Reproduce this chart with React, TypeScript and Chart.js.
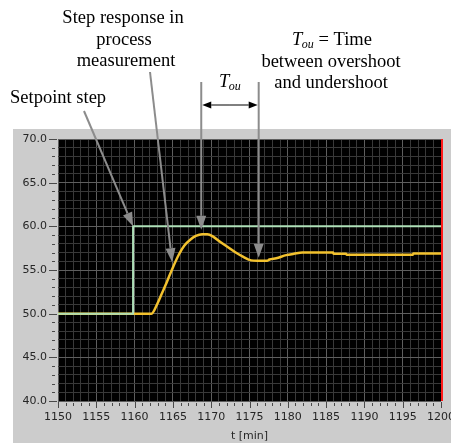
import React, { useEffect, useRef } from "react";
import { Chart, registerables } from "chart.js";

Chart.register(...registerables);

// ---- Data ----
const processTime = [
  1150, 1162.2, 1163.0, 1163.5, 1164.2, 1165.0, 1165.8, 1166.5, 1167.3, 1168.0,
  1168.8, 1169.5, 1170.3, 1171.2, 1172.2, 1173.2, 1174.2, 1175.2, 1176.0, 1177.3,
  1177.6, 1178.5, 1179.8, 1180.8, 1181.9, 1185.9, 1186.0, 1187.6, 1187.7, 1196.3,
  1196.4, 1200,
];
const processValue = [
  50.0, 50.0, 51.2, 52.2, 53.6, 55.3, 56.8, 57.8, 58.5, 58.9,
  59.1, 59.1, 58.8, 58.2, 57.6, 57.0, 56.5, 56.1, 56.05, 56.05,
  56.2, 56.35, 56.7, 56.85, 57.0, 57.0, 56.85, 56.85, 56.75, 56.75,
  56.88, 56.88,
];
const setpointTime = [1150, 1159.8, 1159.8, 1200];
const setpointValue = [50, 50, 60, 60];

const xMin = 1150;
const xMax = 1200;
const yMin = 40;
const yMax = 70;
const tickStep = 1;
const majorEvery = 5;

// annotation targets (data coordinates)
const setpointArrowTip = { x: 1159.8, y: 60 };
const responseArrowTip = { x: 1164.9, y: 55.9 };
const overshootArrowTip = { x: 1168.7, y: 59.6 };
const undershootArrowTip = { x: 1176.2, y: 56.4 };

const SERIF = '"Liberation Serif", "Times New Roman", serif';
const SANS = '"DejaVu Sans", Tahoma, sans-serif';
const ARROW_GRAY = "#8c8c8c";
const MINOR_GRID = "#383838";
const MAJOR_GRID = "#5e5e5e";
const LABEL_COLOR = "#262626";

function arrow(
  ctx: CanvasRenderingContext2D,
  x0: number, y0: number, x1: number, y1: number,
  color: string, lw: number, headLen: number, headHalf: number
) {
  const ang = Math.atan2(y1 - y0, x1 - x0);
  const bx = x1 - headLen * Math.cos(ang);
  const by = y1 - headLen * Math.sin(ang);
  ctx.strokeStyle = color;
  ctx.lineWidth = lw;
  ctx.beginPath();
  ctx.moveTo(x0, y0);
  ctx.lineTo(bx, by);
  ctx.stroke();
  ctx.fillStyle = color;
  ctx.beginPath();
  ctx.moveTo(x1, y1);
  ctx.lineTo(bx + headHalf * Math.sin(ang), by - headHalf * Math.cos(ang));
  ctx.lineTo(bx - headHalf * Math.sin(ang), by + headHalf * Math.cos(ang));
  ctx.closePath();
  ctx.fill();
}

function touWidth(ctx: CanvasRenderingContext2D) {
  ctx.font = `italic 18.5px ${SERIF}`;
  const wT = ctx.measureText("T").width;
  ctx.font = `italic 12px ${SERIF}`;
  const wo = ctx.measureText("ou").width;
  return { wT, wo };
}

function drawTou(ctx: CanvasRenderingContext2D, x: number, y: number) {
  const { wT, wo } = touWidth(ctx);
  ctx.textAlign = "left";
  ctx.font = `italic 18.5px ${SERIF}`;
  ctx.fillText("T", x, y);
  ctx.font = `italic 12px ${SERIF}`;
  ctx.fillText("ou", x + wT - 0.5, y + 3);
  return wT + wo - 0.5;
}

const decorPlugin = {
  id: "decor",
  beforeDraw(chart: any) {
    const { ctx, chartArea: a, width, height } = chart;
    ctx.save();
    ctx.fillStyle = "#ffffff";
    ctx.fillRect(0, 0, width, height);
    ctx.fillStyle = "#cccccc";
    ctx.fillRect(a.left - 45, a.top - 10, width - (a.left - 45), a.bottom + 42 - (a.top - 10));
    ctx.fillStyle = "#000000";
    ctx.fillRect(a.left, a.top, a.right - a.left, a.bottom - a.top);
    ctx.restore();
  },
  afterDraw(chart: any) {
    const { ctx, chartArea: a, scales } = chart;
    const xs = scales.x;
    const ys = scales.y;
    ctx.save();

    // red cursor line at right edge
    ctx.fillStyle = "#ff1a1a";
    ctx.fillRect(a.right, a.top, 2, a.bottom - a.top);

    // tick marks
    ctx.strokeStyle = "#4a4a4a";
    ctx.lineWidth = 1;
    for (const t of xs.ticks) {
      const px = Math.round(xs.getPixelForValue(t.value)) + 0.5;
      const major = t.value % majorEvery === 0;
      ctx.beginPath();
      ctx.moveTo(px, a.bottom + (major ? 1 : 2));
      ctx.lineTo(px, a.bottom + (major ? 7 : 5));
      ctx.stroke();
    }
    for (const t of ys.ticks) {
      const py = Math.round(ys.getPixelForValue(t.value)) + 0.5;
      const major = t.value % majorEvery === 0;
      ctx.beginPath();
      ctx.moveTo(a.left - (major ? 9 : 6), py);
      ctx.lineTo(a.left - (major ? 1 : 3), py);
      ctx.stroke();
    }

    // arrows
    const sp = { x: xs.getPixelForValue(setpointArrowTip.x), y: ys.getPixelForValue(setpointArrowTip.y) };
    const rs = { x: xs.getPixelForValue(responseArrowTip.x), y: ys.getPixelForValue(responseArrowTip.y) };
    const ov = { x: xs.getPixelForValue(overshootArrowTip.x), y: ys.getPixelForValue(overshootArrowTip.y) };
    const un = { x: xs.getPixelForValue(undershootArrowTip.x), y: ys.getPixelForValue(undershootArrowTip.y) };
    arrow(ctx, 84, 111, sp.x, sp.y, ARROW_GRAY, 2, 14, 5);
    arrow(ctx, 150, 72, rs.x, rs.y, ARROW_GRAY, 2, 14, 5);
    arrow(ctx, ov.x, 82, ov.x, ov.y, ARROW_GRAY, 2, 14, 5);
    arrow(ctx, un.x, 82, un.x, un.y, ARROW_GRAY, 2, 14, 5);

    // T_ou double arrow
    const ya = 105;
    const midX = (ov.x + un.x) / 2;
    arrow(ctx, midX, ya, ov.x + 1, ya, "#000000", 1, 9, 3.5);
    arrow(ctx, midX, ya, un.x - 1, ya, "#000000", 1, 9, 3.5);

    // texts
    ctx.fillStyle = "#000000";
    ctx.textBaseline = "alphabetic";
    ctx.font = `18.5px ${SERIF}`;
    ctx.textAlign = "left";
    ctx.fillText("Setpoint step", 10, 103);
    ctx.textAlign = "center";
    ctx.fillText("Step response in", 123, 23);
    ctx.fillText("process", 124, 45);
    ctx.fillText("measurement", 126, 66);
    ctx.fillText("between overshoot", 331, 67);
    ctx.fillText("and undershoot", 331, 88);

    // "T_ou = Time"
    const { wT, wo } = touWidth(ctx);
    ctx.font = `18.5px ${SERIF}`;
    const rest = " = Time";
    const wRest = ctx.measureText(rest).width;
    const total = wT + wo - 0.5 + wRest;
    const startX = 332 - total / 2;
    const used = drawTou(ctx, startX, 45);
    ctx.font = `18.5px ${SERIF}`;
    ctx.textAlign = "left";
    ctx.fillText(rest, startX + used, 45);

    // T_ou between the arrows
    const wLbl = wT + wo - 0.5;
    drawTou(ctx, midX - wLbl / 2, 87);

    ctx.restore();
  },
};

export default function App() {
  const ref = useRef<HTMLCanvasElement | null>(null);

  useEffect(() => {
    document.body.style.margin = "0";
    const canvas = ref.current;
    if (!canvas) return;
    const gridColor = (c: any) =>
      c.tick && Math.round(c.tick.value) % majorEvery === 0 ? MAJOR_GRID : MINOR_GRID;
    const tickFont = { family: SANS, size: 11 };

    const chart = new Chart(canvas, {
      type: "line",
      data: {
        datasets: [
          {
            label: "Setpoint",
            data: setpointTime.map((t, i) => ({ x: t, y: setpointValue[i] })),
            borderColor: "#aee0b8",
            borderWidth: 2,
            pointRadius: 0,
            tension: 0,
          },
          {
            label: "Process measurement",
            data: processTime.map((t, i) => ({ x: t, y: processValue[i] })),
            borderColor: "#f2c12e",
            borderWidth: 2.5,
            pointRadius: 0,
            cubicInterpolationMode: "monotone",
          },
        ],
      },
      options: {
        responsive: false,
        animation: false,
        devicePixelRatio: 1,
        layout: { padding: { left: 0, top: 139, right: 10, bottom: 0 } },
        plugins: { legend: { display: false }, tooltip: { enabled: false } },
        scales: {
          x: {
            type: "linear",
            min: xMin,
            max: xMax,
            afterFit(s: any) {
              s.height = 44;
              s.paddingLeft = 0;
              s.paddingRight = 0;
            },
            border: { display: false },
            grid: { color: gridColor, lineWidth: 1, drawTicks: false },
            ticks: {
              stepSize: tickStep,
              autoSkip: false,
              maxRotation: 0,
              minRotation: 0,
              padding: 10,
              color: LABEL_COLOR,
              font: tickFont,
              callback: (v: any) => (Math.round(v) % majorEvery === 0 ? String(v) : ""),
            },
            title: {
              display: true,
              text: "t [min]",
              color: LABEL_COLOR,
              font: tickFont,
              padding: { top: 0, bottom: 2 },
            },
          },
          y: {
            type: "linear",
            min: yMin,
            max: yMax,
            afterFit(s: any) {
              s.width = 58;
              s.paddingTop = 0;
              s.paddingBottom = 0;
            },
            border: { display: false },
            grid: { color: gridColor, lineWidth: 1, drawTicks: false },
            ticks: {
              stepSize: tickStep,
              autoSkip: false,
              padding: 11,
              color: LABEL_COLOR,
              font: tickFont,
              callback: (v: any) => (Math.round(v) % majorEvery === 0 ? Number(v).toFixed(1) : ""),
            },
          },
        },
      },
      plugins: [decorPlugin],
    } as any);

    return () => chart.destroy();
  }, []);

  return (
    <div style={{ width: 451, height: 445 }}>
      <canvas ref={ref} width={451} height={445} style={{ display: "block" }} />
    </div>
  );
}
